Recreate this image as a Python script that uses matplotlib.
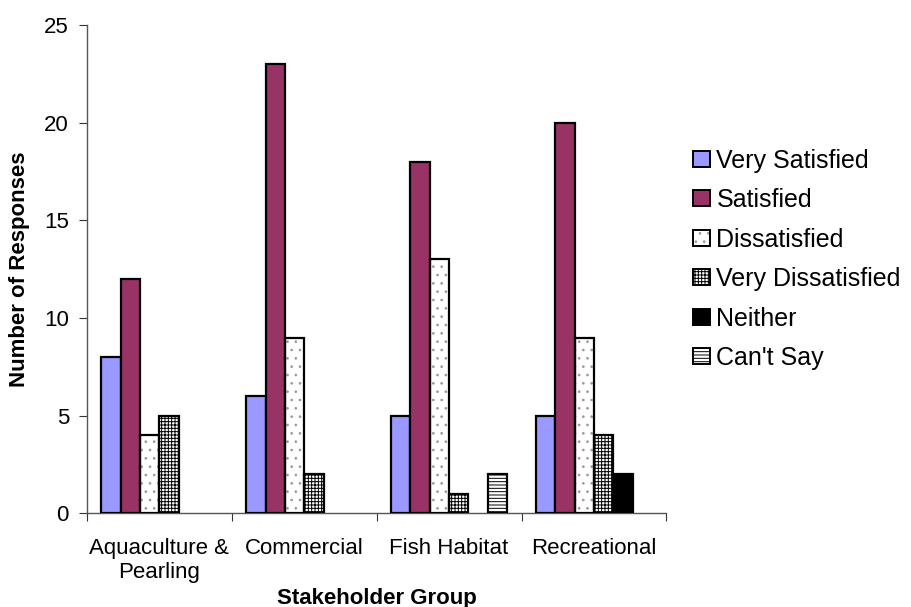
import numpy as np
import matplotlib.pyplot as plt

plt.rcParams['font.family'] = ['Liberation Sans', 'DejaVu Sans']
plt.rcParams['hatch.linewidth'] = 0.7

groups = ["Aquaculture &\nPearling", "Commercial", "Fish Habitat", "Recreational"]
responses = ["Very Satisfied", "Satisfied", "Dissatisfied",
             "Very Dissatisfied", "Neither", "Can't Say"]

very_satisfied = [8, 6, 5, 5]
satisfied = [12, 23, 18, 20]
dissatisfied = [4, 9, 13, 9]
very_dissatisfied = [5, 2, 1, 4]
neither = [0, 0, 0, 2]
cant_say = [0, 0, 2, 0]

series = [very_satisfied, satisfied, dissatisfied, very_dissatisfied, neither, cant_say]
# fill colour, hatch, hatch colour
styles = [
    ("#9999ff", None, None),
    ("#993366", None, None),
    ("white", "..", "#9a9a9a"),
    ("white", "+++++", "black"),
    ("black", None, None),
    ("white", "-----", "black"),
]

fig = plt.figure(figsize=(9.11, 6.07), dpi=100)
ax = fig.add_axes([0.0955, 0.1545, 0.636, 0.804])

x = np.arange(len(groups))
n = len(series)
w = 0.8 / n
handles = []
for i, (vals, (fc, hatch, hc)) in enumerate(zip(series, styles)):
    vals = np.array(vals)
    pos = x - 0.4 + w * (i + 0.5)
    keep = vals > 0
    if hatch:
        # hatch drawn in its own colour, black outline on top
        ax.bar(pos[keep], vals[keep], w, color=fc, edgecolor=hc, hatch=hatch,
               linewidth=0, zorder=2)
        ax.bar(pos[keep], vals[keep], w, facecolor="none", edgecolor="black",
               linewidth=1.6, zorder=3)
        h = (plt.Rectangle((0, 0), 1, 1, facecolor=fc, edgecolor=hc,
                           hatch=hatch, linewidth=0),
             plt.Rectangle((0, 0), 1, 1, facecolor="none", edgecolor="black",
                           linewidth=1.4))
    else:
        ax.bar(pos[keep], vals[keep], w, color=fc, edgecolor="black",
               linewidth=1.6, zorder=3)
        h = plt.Rectangle((0, 0), 1, 1, facecolor=fc, edgecolor="black",
                          linewidth=1.4)
    handles.append(h)

ax.set_xlim(-0.5, len(groups) - 0.5)
ax.set_ylim(0, 25)
ax.set_yticks(range(0, 26, 5))
ax.set_xticks(np.append(x - 0.5, len(groups) - 0.5))
ax.set_xticklabels([])
ax.set_xticks(x, minor=True)
ax.set_xticklabels(groups, minor=True, fontsize=16)
ax.tick_params(axis="x", which="minor", length=0, pad=18)
ax.tick_params(axis="x", which="major", length=6, direction="out", color="#333333")
ax.tick_params(axis="y", length=6, direction="out", labelsize=16, color="#333333", pad=7)

for s in ("top", "right"):
    ax.spines[s].set_visible(False)
for s in ("left", "bottom"):
    ax.spines[s].set_color("#555555")
    ax.spines[s].set_linewidth(1.0)

ax.set_xlabel("Stakeholder Group", fontsize=16, fontweight="bold", labelpad=3)
ax.set_ylabel("Number of Responses", fontsize=16, fontweight="bold", labelpad=10)

ax.legend(handles, responses, loc="center left", bbox_to_anchor=(1.028, 0.52),
          frameon=False, fontsize=18, handlelength=0.7, handleheight=0.6,
          handletextpad=0.25, labelspacing=0.62, borderaxespad=0)

fig.savefig("out.png", dpi=100)
